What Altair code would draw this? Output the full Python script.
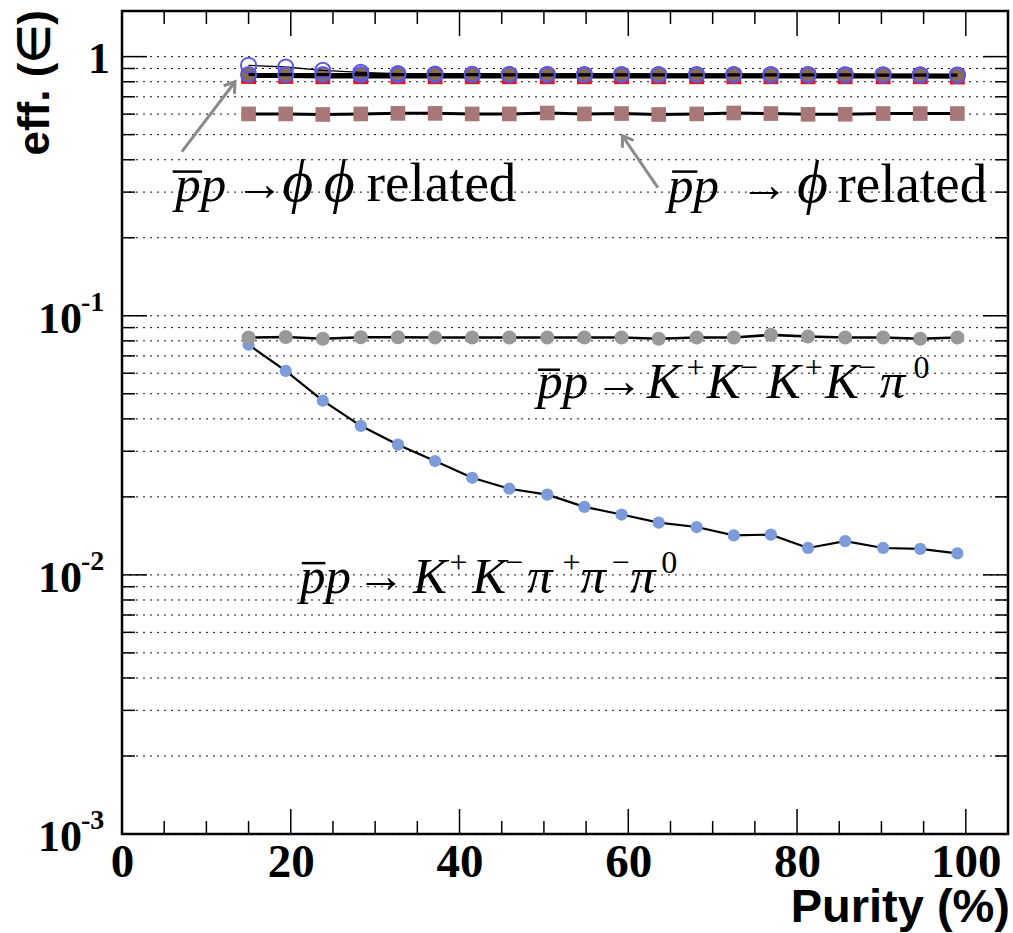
import altair as alt
import pandas as pd

# ---------------------------------------------------------------- data
purity = [15.0, 19.4, 23.8, 28.3, 32.7, 37.1, 41.5, 45.9, 50.4, 54.8,
          59.2, 63.6, 68.1, 72.5, 76.9, 81.3, 85.7, 90.2, 94.6, 99.0]

# pbar p -> phi phi related channels
eff_phiphi_sq = [0.838, 0.838, 0.836, 0.836, 0.836, 0.836, 0.836, 0.836, 0.836, 0.836,
                 0.836, 0.836, 0.836, 0.836, 0.836, 0.836, 0.836, 0.836, 0.836, 0.834]
eff_phiphi_fc = [0.852, 0.852, 0.851, 0.851, 0.851, 0.851, 0.851, 0.851, 0.850, 0.850,
                 0.850, 0.849, 0.849, 0.849, 0.848, 0.848, 0.848, 0.847, 0.846, 0.844]
eff_phiphi_oa = [0.926, 0.912, 0.885, 0.870, 0.860, 0.856, 0.855, 0.854, 0.854, 0.853,
                 0.853, 0.853, 0.852, 0.852, 0.852, 0.852, 0.851, 0.851, 0.850, 0.849]
eff_phiphi_ob = [0.853, 0.852, 0.852, 0.852, 0.852, 0.852, 0.852, 0.851, 0.851, 0.851,
                 0.851, 0.851, 0.851, 0.850, 0.850, 0.850, 0.850, 0.849, 0.849, 0.848]
# pbar p -> phi related
eff_phi = [0.601, 0.601, 0.598, 0.601, 0.604, 0.604, 0.601, 0.601, 0.606, 0.601,
           0.603, 0.598, 0.601, 0.606, 0.603, 0.599, 0.599, 0.603, 0.603, 0.603]
# pbar p -> K+ K- K+ K- pi0
eff_kkkkpi = [0.0824, 0.0828, 0.0815, 0.0826, 0.0826, 0.0824, 0.0824, 0.0824, 0.0824, 0.0824,
              0.0824, 0.0815, 0.0824, 0.0824, 0.0844, 0.0832, 0.0824, 0.0824, 0.0815, 0.0824]
# pbar p -> K+ K- pi+ pi- pi0
eff_kkpipipi = [0.0773, 0.0613, 0.0470, 0.0376, 0.0318, 0.0275, 0.0237, 0.0215, 0.0204, 0.0183,
                0.0171, 0.0159, 0.0153, 0.0142, 0.0143, 0.0127, 0.0135, 0.0127, 0.0126, 0.0121]

x_ticks = [0, 20, 40, 60, 80, 100]
x_minor = [5, 10, 15, 25, 30, 35, 45, 50, 55, 65, 70, 75, 85, 90, 95]
y_major = [0.001, 0.01, 0.1, 1.0]
y_minor = [k * 10.0 ** e for e in (-3, -2, -1) for k in range(2, 10)]

# ---------------------------------------------------------------- layout
W, H = 886, 823
XDOM = [0, 105]
YDOM = [0.001, 1.5]
SERIF = "Liberation Serif"

X = alt.X(
    "x:Q",
    scale=alt.Scale(domain=XDOM, nice=False, zero=False),
    axis=alt.Axis(values=x_ticks, title=None, ticks=False, domain=False, grid=False,
                  labelFont=SERIF, labelFontWeight="bold", labelFontSize=47,
                  labelColor="black", labelPadding=5, labelFlush=False, labelOverlap=False),
)
Y = alt.Y("y:Q", scale=alt.Scale(type="log", domain=YDOM, nice=False), axis=None)


def frame(xs, ys):
    return pd.DataFrame({"x": xs, "y": ys})


def series(vals, marker, line_width=2.0):
    df = frame(purity, vals)
    base = alt.Chart(df)
    line = base.mark_line(color="black", strokeWidth=line_width).encode(x=X, y=Y)
    pts = base.mark_point(**marker).encode(x=X, y=Y)
    return [line, pts]


layers = []

# dotted horizontal grid at every decade and sub-decade
grid_df = frame([0] * (len(y_major) + len(y_minor)), y_major + y_minor)
layers.append(alt.Chart(grid_df).mark_rule(color="#111111", strokeWidth=1, strokeDash=[2, 5])
              .encode(y=Y, x=alt.value(0), x2=alt.value(W)))

# data series
layers += series(eff_kkpipipi, dict(shape="circle", filled=True, color="#7b9bdb", size=150, opacity=1),
                 line_width=2.2)
layers += series(eff_kkkkpi, dict(shape="circle", filled=True, color="#999999", size=200, opacity=1),
                 line_width=2.6)
layers += series(eff_phi, dict(shape="square", filled=True, color="#a87878", size=215, opacity=1),
                 line_width=3)
layers += series(eff_phiphi_sq, dict(shape="square", filled=True, color="#ee1111", size=220, opacity=1),
                 line_width=3.2)
layers += series(eff_phiphi_fc, dict(shape="circle", filled=True, color="#8b6a56", size=200, opacity=1),
                 line_width=3.2)
layers += series(eff_phiphi_oa, dict(shape="circle", filled=False, color="#5a5ae6", strokeWidth=2,
                                     size=230, opacity=1), line_width=1.3)
layers += series(eff_phiphi_ob, dict(shape="circle", filled=False, color="#5a5ae6", strokeWidth=2,
                                     size=230, opacity=1), line_width=3.2)

# inward ticks on all four sides
TICK_MAJ, TICK_MIN = 25, 13
xt_maj = alt.Chart(frame(x_ticks, [1] * len(x_ticks)))
xt_min = alt.Chart(frame(x_minor, [1] * len(x_minor)))
for ch, L in ((xt_maj, TICK_MAJ), (xt_min, TICK_MIN)):
    layers.append(ch.mark_rule(color="black", strokeWidth=1.5)
                  .encode(x=X, y=alt.value(H), y2=alt.value(H - L)))
    layers.append(ch.mark_rule(color="black", strokeWidth=1.5)
                  .encode(x=X, y=alt.value(0), y2=alt.value(L)))
yt_maj = alt.Chart(frame([0] * len(y_major), y_major))
yt_min = alt.Chart(frame([0] * len(y_minor), y_minor))
for ch, L in ((yt_maj, TICK_MAJ), (yt_min, TICK_MIN)):
    layers.append(ch.mark_rule(color="black", strokeWidth=1.5)
                  .encode(y=Y, x=alt.value(0), x2=alt.value(L)))
    layers.append(ch.mark_rule(color="black", strokeWidth=1.5)
                  .encode(y=Y, x=alt.value(W), x2=alt.value(W - L)))

# y tick labels: "1", then 10 with a raised exponent
one_df = pd.DataFrame({"x": [0], "y": [1.0], "t": ["1"]})
layers.append(alt.Chart(one_df).mark_text(font=SERIF, fontWeight="bold", fontSize=44,
                                          align="right", baseline="middle", dy=3, color="black")
              .encode(y=Y, x=alt.value(-12), text="t:N"))
dec_df = pd.DataFrame({"x": [0, 0, 0], "y": [0.1, 0.01, 0.001],
                       "t": ["10", "10", "10"], "e": ["-1", "-2", "-3"]})
layers.append(alt.Chart(dec_df).mark_text(font=SERIF, fontWeight="bold", fontSize=44,
                                          align="right", baseline="middle", dy=4, color="black")
              .encode(y=Y, x=alt.value(-40), text="t:N"))
layers.append(alt.Chart(dec_df).mark_text(font=SERIF, fontWeight="bold", fontSize=28,
                                          align="left", baseline="middle", dy=-13, color="black")
              .encode(y=Y, x=alt.value(-41), text="e:N"))

# axis titles
layers.append(alt.Chart(pd.DataFrame({"x": [0], "y": [1.0], "t": ["Purity (%)"]}))
              .mark_text(font="Liberation Sans", fontWeight="bold", fontSize=47,
                         align="right", baseline="alphabetic", color="black")
              .encode(x=alt.value(W + 2), y=alt.value(H + 88), text="t:N"))
layers.append(alt.Chart(pd.DataFrame({"x": [0], "y": [1.0], "t": ["eff. (\u2208)"]}))
              .mark_text(font="Liberation Sans", fontWeight="bold", fontSize=44, angle=270,
                         align="right", baseline="middle", color="black")
              .encode(x=alt.value(-86), y=alt.value(-1), text="t:N"))

# channel annotations, assembled from roman, italic and superscript pieces
ann_word = pd.DataFrame([
    (29.0, 0.278, "related"), (84.8, 0.276, "related"),
], columns=["x", "y", "t"])
ann_arrow = pd.DataFrame([
    (13.4, 0.278, "\u2192"), (73.2, 0.276, "\u2192"),
    (56.0, 0.0482, "\u2192"), (27.8, 0.00852, "\u2192"),
], columns=["x", "y", "t"])
ann_italic = pd.DataFrame([
    (6.3, 0.278, "pp"), (64.7, 0.276, "pp"),
    (49.2, 0.0482, "pp"), (62.2, 0.0482, "K"), (69.3, 0.0482, "K"),
    (76.4, 0.0482, "K"), (83.3, 0.0482, "K"), (89.8, 0.0482, "\u03c0"),
    (21.1, 0.00852, "pp"), (34.5, 0.00852, "K"), (41.5, 0.00852, "K"),
    (48.0, 0.00852, "\u03c0"), (54.3, 0.00852, "\u03c0"), (60.2, 0.00852, "\u03c0"),
], columns=["x", "y", "t"])
ann_phi = pd.DataFrame([
    (19.0, 0.278, "\u03d5"), (23.9, 0.278, "\u03d5"), (80.0, 0.276, "\u03d5"),
], columns=["x", "y", "t"])
ann_sup = pd.DataFrame([
    (66.9, 0.0482, "+"), (73.2, 0.0482, "\u2212"), (80.9, 0.0482, "+"),
    (87.2, 0.0482, "\u2212"), (93.8, 0.0482, "0"),
    (38.8, 0.00852, "+"), (45.4, 0.00852, "\u2212"), (52.2, 0.00852, "+"),
    (58.0, 0.00852, "\u2212"), (63.9, 0.00852, "0"),
], columns=["x", "y", "t"])
overbars = pd.DataFrame([
    (6.0, 9.5, 0.36), (65.2, 68.2, 0.36), (49.3, 51.9, 0.0619), (21.3, 24.1, 0.0111),
], columns=["x", "x2", "y"])

layers.append(alt.Chart(ann_word).mark_text(font=SERIF, fontSize=55, align="left",
                                            baseline="alphabetic", color="black")
              .encode(x=X, y=Y, text="t:N"))
layers.append(alt.Chart(ann_arrow).mark_text(font=SERIF, fontSize=49, align="left",
                                             baseline="alphabetic", dy=-1, color="black")
              .encode(x=X, y=Y, text="t:N"))
layers.append(alt.Chart(ann_italic).mark_text(font=SERIF, fontStyle="italic", fontSize=51,
                                              align="left", baseline="alphabetic", color="black")
              .encode(x=X, y=Y, text="t:N"))
layers.append(alt.Chart(ann_phi).mark_text(font=SERIF, fontStyle="italic", fontSize=60,
                                           align="left", baseline="alphabetic", color="black")
              .encode(x=X, y=Y, text="t:N"))
layers.append(alt.Chart(ann_sup).mark_text(font=SERIF, fontSize=32, align="left",
                                           baseline="alphabetic", dy=-20, color="black")
              .encode(x=X, y=Y, text="t:N"))
layers.append(alt.Chart(overbars).mark_rule(color="black", strokeWidth=2.5)
              .encode(x=X, x2="x2:Q", y=Y))

# arrows pointing from the phi labels to their curves
arrows = pd.DataFrame([(7.1, 0.43, 13.4, 0.80, 37), (63.5, 0.312, 59.3, 0.495, 326)],
                      columns=["x", "y", "x2", "y2", "ang"])
layers.append(alt.Chart(arrows).mark_rule(color="#8a8a8a", strokeWidth=3)
              .encode(x=X, y=Y, x2="x2:Q", y2="y2:Q"))
for _, r in arrows.iterrows():
    head = pd.DataFrame({"x": [r["x2"]], "y": [r["y2"]]})
    layers.append(alt.Chart(head).mark_point(shape="M -0.6 0.9 L 0 0 L 0.6 0.9", filled=False,
                                             stroke="#8a8a8a", strokeWidth=3, size=500,
                                             angle=float(r["ang"]), opacity=1)
                  .encode(x=X, y=Y))

chart = alt.layer(*layers).properties(
    width=W, height=H,
    autosize=alt.AutoSizeParams(type="none"),
    padding={"left": 122, "top": 11, "right": 5, "bottom": 99},
    background="white",
).configure_view(stroke="black", strokeWidth=2.5)

chart.save("out.html", embed_options={"renderer": "svg", "actions": False})
